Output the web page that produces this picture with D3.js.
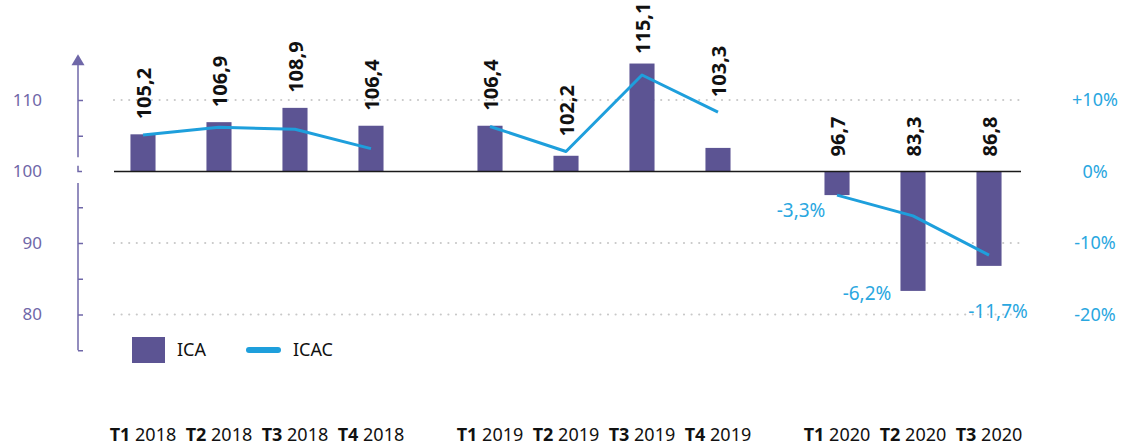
<!DOCTYPE html>
<html>
<head>
<meta charset="utf-8">
<script src="https://cdn.jsdelivr.net/npm/d3@7"></script>
<style>
  body { margin: 0; background: #fff; }
  svg { display: block; font-family: "Noto Sans", sans-serif; }
</style>
</head>
<body>
<div id="chart"></div>
<script>
// chart data
const years = ['2018', '2019', '2020'];
const quarters = ['T1', 'T2', 'T3', 'T4'];
const periodYear = ['2018', '2018', '2018', '2018', '2019', '2019', '2019', '2019', '2020', '2020', '2020'];
const periodQuarter = ['T1', 'T2', 'T3', 'T4', 'T1', 'T2', 'T3', 'T4', 'T1', 'T2', 'T3'];
const icaValues = [105.2, 106.9, 108.9, 106.4, 106.4, 102.2, 115.1, 103.3, 96.7, 83.3, 86.8];
const icacValues = [5.1, 6.2, 5.9, 3.2, 6.3, 2.8, 13.5, 8.3, -3.3, -6.2, -11.7];
const icacShown = ['-3,3%', '-6,2%', '-11,7%'];
const leftTicks = [80, 90, 100, 110];
const leftMinor = [75, 80, 85, 90, 95, 105, 110];
const rightTicks = [-20, -10, 0, 10];
const rightTickLabels = ['-20%', '-10%', '0%', '+10%'];

const width = 1122, height = 446;
const barColor = '#5c5493';
const axisColor = '#6f67a8';
const lineColor = '#1e9fdc';
const pctColor = '#2aa7df';

const data = icaValues.map((v, i) => ({
  year: periodYear[i], q: periodQuarter[i], ica: v, icac: icacValues[i]
}));

const svg = d3.select('#chart').append('svg')
  .attr('width', width)
  .attr('height', height);

// scales
const x0 = d3.scaleBand().domain(years).range([105, 1103]).paddingInner(0.124).paddingOuter(0);
const x1 = d3.scaleBand().domain(quarters).range([0, x0.bandwidth()]).paddingInner(0.67).paddingOuter(0.335);
const cx = (d) => x0(d.year) + x1(d.q) + x1.bandwidth() / 2;

const y = d3.scaleLinear().domain([75, 115]).range([350.25, 64.25]);
const yR = d3.scaleLinear().domain([-25, 15]).range([350.25, 64.25]);

const plotLeft = 114, plotRight = 1021, axisX = 78;

// dotted grid
svg.append('g')
  .selectAll('line')
  .data(leftTicks.filter((t) => t !== 100))
  .enter()
  .append('line')
  .attr('x1', plotLeft)
  .attr('x2', plotRight)
  .attr('y1', (d) => y(d))
  .attr('y2', (d) => y(d))
  .attr('stroke', '#c8c8c8')
  .attr('stroke-width', 2.2)
  .attr('stroke-linecap', 'round')
  .attr('stroke-dasharray', '0,7.6');

// bars
svg.append('g')
  .selectAll('rect')
  .data(data)
  .enter()
  .append('rect')
  .attr('x', (d) => cx(d) - x1.bandwidth() / 2)
  .attr('width', x1.bandwidth())
  .attr('y', (d) => y(Math.max(d.ica, 100)))
  .attr('height', (d) => Math.abs(y(d.ica) - y(100)))
  .attr('fill', barColor);

// baseline
svg.append('line')
  .attr('x1', plotLeft)
  .attr('x2', plotRight)
  .attr('y1', y(100))
  .attr('y2', y(100))
  .attr('stroke', '#1a1a1a')
  .attr('stroke-width', 1.5);

// ICAC line, one piece per year
const line = d3.line()
  .x((d) => cx(d))
  .y((d) => yR(d.icac));

svg.append('g')
  .selectAll('path')
  .data(years.map((yr) => data.filter((d) => d.year === yr)))
  .enter()
  .append('path')
  .attr('d', line)
  .attr('fill', 'none')
  .attr('stroke', lineColor)
  .attr('stroke-width', 3)
  .attr('stroke-linejoin', 'round');

// value labels (rotated), kept inside the top edge
svg.append('g')
  .selectAll('text')
  .data(data)
  .enter()
  .append('text')
  .attr('transform', (d) => {
    const top = Math.min(y(Math.max(d.ica, 100)), yR(d.icac));
    return `translate(${cx(d) + 1},${Math.max(top - 15, 54)}) rotate(-90)`;
  })
  .attr('dy', '0.36em')
  .attr('font-size', 20)
  .attr('font-weight', 700)
  .attr('fill', '#111')
  .text((d) => d3.format('.1f')(d.ica).replace('.', ','));

// percent labels for 2020
const nudge = [[-36, 15], [-46, 78], [9, 56]];
svg.append('g')
  .selectAll('text')
  .data(data.filter((d) => d.year === '2020'))
  .enter()
  .append('text')
  .attr('x', (d, i) => cx(d) + nudge[i][0])
  .attr('y', (d, i) => yR(d.icac) + nudge[i][1])
  .attr('dy', '0.35em')
  .attr('text-anchor', 'middle')
  .attr('font-size', 19)
  .attr('fill', pctColor)
  .text((d, i) => icacShown[i]);

// left axis: labels
const leftAxis = svg.append('g')
  .attr('transform', `translate(${axisX},0)`)
  .call(d3.axisLeft(y).tickValues(leftTicks).tickSize(0).tickPadding(36));
leftAxis.select('.domain').remove();
leftAxis.selectAll('text')
  .attr('font-size', 17)
  .attr('font-family', '"Noto Sans", sans-serif')
  .attr('fill', axisColor);

// left axis: minor tick marks
const tickAxis = svg.append('g')
  .attr('transform', `translate(${axisX},0)`)
  .call(d3.axisRight(y).tickValues(leftMinor).tickSize(5).tickFormat(''));
tickAxis.select('.domain').remove();
tickAxis.selectAll('line').attr('stroke', axisColor).attr('stroke-width', 1.5);

// left axis line with break
const axisG = svg.append('g').attr('stroke', axisColor).attr('stroke-width', 1.5).attr('fill', 'none');
axisG.append('line').attr('x1', axisX).attr('x2', axisX).attr('y1', y(115)).attr('y2', y(102));
axisG.append('line').attr('x1', axisX).attr('x2', axisX).attr('y1', y(98.4)).attr('y2', y(75));
axisG.append('path')
  .attr('d', `M${axisX},${y(100.8)}V${y(100)}H${axisX + 4}`);
svg.append('path')
  .attr('d', `M${axisX - 6.5},${y(115) + 1}L${axisX},${y(115) - 10}L${axisX + 6.5},${y(115) + 1}Z`)
  .attr('fill', axisColor);

// right axis
const rightAxis = svg.append('g')
  .attr('transform', 'translate(1095,0)')
  .call(d3.axisLeft(yR).tickValues(rightTicks).tickSize(0).tickPadding(0)
    .tickFormat((d, i) => rightTickLabels[i]));
rightAxis.select('.domain').remove();
rightAxis.selectAll('text')
  .attr('text-anchor', 'middle')
  .attr('x', 0)
  .attr('font-size', 18)
  .attr('font-family', '"Noto Sans", sans-serif')
  .attr('fill', pctColor);

// x labels
const xl = svg.append('g')
  .selectAll('text')
  .data(data)
  .enter()
  .append('text')
  .attr('x', (d) => cx(d))
  .attr('y', 441)
  .attr('text-anchor', 'middle')
  .attr('font-size', 18)
  .attr('fill', '#111');
xl.append('tspan').attr('font-weight', 700).text((d) => d.q);
xl.append('tspan').text((d) => ' ' + d.year);

// legend
const legend = svg.append('g');
legend.append('rect')
  .attr('x', 132).attr('y', 337).attr('width', 33).attr('height', 26)
  .attr('fill', barColor);
legend.append('text')
  .attr('x', 177).attr('y', 350).attr('dy', '0.35em')
  .attr('font-size', 18).attr('fill', '#111')
  .text('ICA');
legend.append('line')
  .attr('x1', 249).attr('x2', 278).attr('y1', 350).attr('y2', 350)
  .attr('stroke', lineColor).attr('stroke-width', 6).attr('stroke-linecap', 'round');
legend.append('text')
  .attr('x', 293).attr('y', 350).attr('dy', '0.35em')
  .attr('font-size', 18).attr('fill', '#111')
  .text('ICAC');
</script>
</body>
</html>
